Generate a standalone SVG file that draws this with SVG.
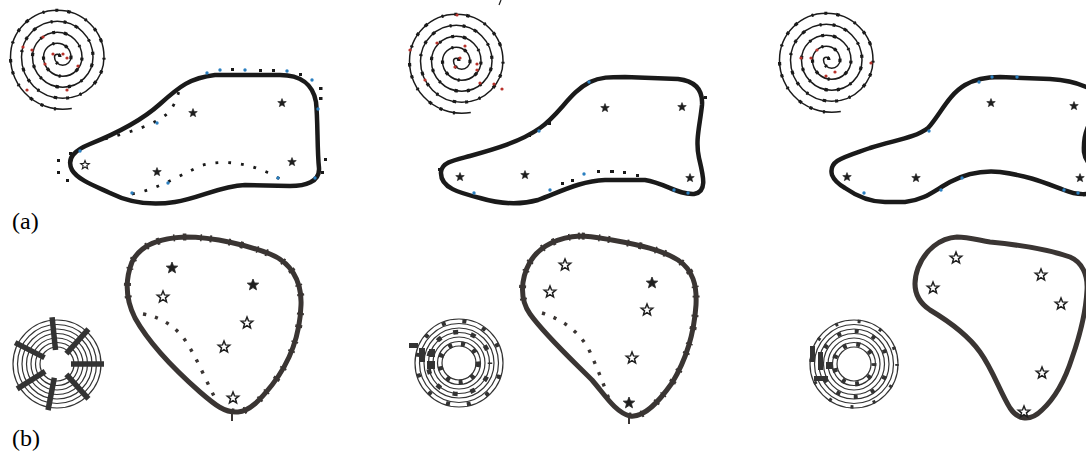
<svg xmlns="http://www.w3.org/2000/svg" xmlns:xlink="http://www.w3.org/1999/xlink" width="1086" height="452" viewBox="0 0 1086 452">
<style>
.bg{fill:#fff}
.sp{fill:none;stroke:#1a1a1a;stroke-width:1.5}
.spt{fill:none;stroke:#1a1a1a;stroke-width:3.2;stroke-dasharray:3 11 2 16 3.5 9}
.oa{fill:none;stroke:#1a1a1a;stroke-width:4.5;stroke-linejoin:round}
.ob{fill:none;stroke:#3a3533;stroke-width:5;stroke-linejoin:round}
.tk{fill:none;stroke:#3a3533;stroke-width:7;stroke-dasharray:2 8 1.5 14 3 10 2 17}
.dl{fill:none;stroke:#1a1a1a;stroke-width:2.8;stroke-dasharray:2.8 10}
.dlb{fill:none;stroke:#3a3533;stroke-width:3.4;stroke-dasharray:3.2 9}
.bd{fill:#2a7fc0}
.rd{fill:#b8312a}
.kd{fill:#1a1a1a}
.sf{fill:#1f1f1f;stroke:#1f1f1f;stroke-width:0.8}
.sh{fill:#fff;stroke:#1f1f1f;stroke-width:1.5}
.rg{fill:none;stroke:#333;stroke-width:1.2}
.spk{stroke:#333;stroke-width:5.5;stroke-linecap:butt}
.bl{fill:none;stroke:#333}
.lbl{font-family:"Liberation Serif","Times New Roman",serif;font-size:24px;fill:#000}
</style>
<defs>
<path id="st" d="M0,-6 L1.53,-2.1 L5.71,-1.85 L2.47,0.8 L3.53,4.85 L0,2.6 L-3.53,4.85 L-2.47,0.8 L-5.71,-1.85 L-1.53,-2.1 Z"/>
<path id="spiral" d="M0,0 A2.75,2.75 0 0 0 -5.5,0 A8.25,8.25 0 0 0 11,0 A13.75,13.75 0 0 0 -16.5,0 A19.25,19.25 0 0 0 22,0 A24.75,24.75 0 0 0 -27.5,0 A30.25,30.25 0 0 0 33,0 A35.75,35.75 0 0 0 -38.5,0 A41.25,41.25 0 0 0 44,0 A46.75,46.75 0 0 0 -49.5,0 A52.25,52.25 0 0 0 11.8,51.5"/>
<g id="rings">
<circle class="rg" r="17"/><circle class="rg" r="21.5"/><circle class="rg" r="26"/><circle class="rg" r="30.5"/><circle class="rg" r="35"/><circle class="rg" r="39.5"/><circle class="rg" r="44"/>
</g>
<clipPath id="cb1"><polygon points="105,220 330,220 330,430 245,430 225,400 140,305 105,305"/></clipPath>
<clipPath id="cb2"><polygon points="500,220 720,220 720,430 640,430 620,400 535,305 500,305"/></clipPath>
</defs>
<rect class="bg" x="0" y="0" width="1086" height="452"/>

<!-- Row (a), left -->
<g id="a1-spiral" transform="translate(60,57)">
<use xlink:href="#spiral" class="sp"/>
<use xlink:href="#spiral" class="spt"/>
</g>
<g id="a1-spiral-marks">
<circle class="rd" cx="43" cy="37" r="1.6"/><circle class="rd" cx="23" cy="47" r="1.6"/><circle class="rd" cx="32" cy="50" r="1.6"/><circle class="rd" cx="53" cy="54" r="1.6"/><circle class="rd" cx="63" cy="54" r="1.6"/><circle class="rd" cx="67" cy="58" r="1.6"/><circle class="rd" cx="78" cy="66" r="1.6"/><circle class="rd" cx="45" cy="64" r="1.6"/><circle class="rd" cx="27" cy="90" r="1.6"/><circle class="rd" cx="67" cy="90" r="1.6"/>
</g>
<g id="a1-shape">
<path class="oa" d="M72,170 C66,158 75,150 90,144 C115,134 140,122 160,104 C180,86 190,78 215,75 L280,75 C300,75 313,84 316,102 C318,120 317,150 319,168 C320,182 305,186 290,186 L245,185 C220,186 200,198 175,202 C150,206 130,203 110,193 C95,186 78,180 72,170 Z"/>
<path class="dl" d="M105,139 C130,132 155,125 168,113 C175,105 177,98 180,88"/>
<path class="dl" d="M132,194 C155,190 175,178 200,166 C225,158 255,164 280,179"/>
<circle class="bd" cx="157" cy="123" r="1.7"/><circle class="bd" cx="168" cy="183" r="1.7"/><circle class="bd" cx="278" cy="178" r="1.7"/><circle class="bd" cx="80" cy="151" r="1.7"/><circle class="bd" cx="132" cy="193" r="1.7"/>
<g class="kd">
<rect x="231" y="68" width="3" height="3"/><rect x="259" y="69" width="3" height="3"/><rect x="272" y="69" width="3" height="3"/><rect x="299" y="73" width="3" height="3"/><rect x="319" y="87" width="3.5" height="3"/><rect x="319" y="97" width="3.5" height="3"/><rect x="324" y="158" width="3" height="3"/><rect x="321" y="171" width="3" height="3"/><rect x="57" y="159" width="3" height="3"/><rect x="57" y="171" width="3" height="3"/><rect x="66" y="179" width="3" height="3"/><rect x="69" y="152" width="3" height="3"/>
</g>
<circle class="bd" cx="207" cy="73" r="1.7"/><circle class="bd" cx="220" cy="70" r="1.7"/><circle class="bd" cx="245" cy="70" r="1.7"/><circle class="bd" cx="287" cy="71" r="1.7"/><circle class="bd" cx="312" cy="80" r="1.7"/><circle class="bd" cx="318" cy="109" r="1.7"/><circle class="bd" cx="315" cy="178" r="1.7"/>
<use xlink:href="#st" class="sh" transform="translate(85,165) scale(0.75)"/>
<use xlink:href="#st" class="sf" transform="translate(157,172) scale(0.75)"/>
<use xlink:href="#st" class="sf" transform="translate(193,113) scale(0.75)"/>
<use xlink:href="#st" class="sf" transform="translate(282,103) scale(0.75)"/>
<use xlink:href="#st" class="sf" transform="translate(292,162) scale(0.75)"/>
</g>

<!-- Row (a), middle -->
<line x1="501" y1="0" x2="499" y2="5" stroke="#1a1a1a" stroke-width="1.2"/>
<g id="a2-spiral" transform="translate(459,61)">
<use xlink:href="#spiral" class="sp"/>
<use xlink:href="#spiral" class="spt"/>
</g>
<g id="a2-spiral-marks">
<circle class="rd" cx="457" cy="15" r="1.6"/><circle class="rd" cx="410" cy="50" r="1.6"/><circle class="rd" cx="437" cy="43" r="1.6"/><circle class="rd" cx="465" cy="46" r="1.6"/><circle class="rd" cx="460" cy="58" r="1.6"/><circle class="rd" cx="477" cy="64" r="1.6"/><circle class="rd" cx="477" cy="70" r="1.6"/><circle class="rd" cx="455" cy="67" r="1.6"/><circle class="rd" cx="425" cy="80" r="1.6"/><circle class="rd" cx="480" cy="83" r="1.6"/><circle class="rd" cx="494" cy="84" r="1.6"/><circle class="rd" cx="502" cy="89" r="1.6"/>
</g>
<g id="a2-shape">
<path class="oa" d="M441,172 C442,162 455,160 470,156 C495,149 520,142 540,128 C560,114 570,92 590,82 C600,77 610,77 625,77 L678,79 C695,81 703,90 702,105 C700,125 695,140 699,158 C703,175 708,192 694,194 C678,195 665,183 645,180 L605,180 C580,181 560,192 538,200 C520,205 500,204 480,198 C460,193 440,188 441,172 Z"/>
<g class="kd"><rect x="528" y="134" width="3" height="3"/><rect x="548" y="122" width="3" height="3"/><rect x="561" y="182" width="3" height="3"/><rect x="571" y="179" width="3" height="3"/><rect x="597" y="170" width="3" height="3"/><rect x="610" y="170" width="4" height="3"/><rect x="623" y="171" width="3" height="3"/><rect x="636" y="174" width="3" height="3"/><rect x="438" y="168" width="3" height="3"/><rect x="704" y="96" width="3" height="3"/></g>
<circle class="bd" cx="539" cy="131" r="1.7"/><circle class="bd" cx="584" cy="174" r="1.7"/><circle class="bd" cx="589" cy="82" r="1.7"/><circle class="bd" cx="474" cy="193" r="1.7"/><circle class="bd" cx="550" cy="190" r="1.7"/><circle class="bd" cx="674" cy="190" r="1.7"/><circle class="bd" cx="688" cy="193" r="1.7"/>
<use xlink:href="#st" class="sf" transform="translate(460,177) scale(0.75)"/>
<use xlink:href="#st" class="sf" transform="translate(525,175) scale(0.75)"/>
<use xlink:href="#st" class="sf" transform="translate(605,108) scale(0.75)"/>
<use xlink:href="#st" class="sf" transform="translate(682,107) scale(0.75)"/>
<use xlink:href="#st" class="sf" transform="translate(690,178) scale(0.75)"/>
</g>

<!-- Row (a), right -->
<g id="a3-spiral" transform="translate(829,60)">
<use xlink:href="#spiral" class="sp"/>
<use xlink:href="#spiral" class="spt"/>
</g>
<g id="a3-spiral-marks">
<circle class="rd" cx="801" cy="58" r="1.6"/><circle class="rd" cx="811" cy="58" r="1.6"/><circle class="rd" cx="817" cy="50" r="1.6"/><circle class="rd" cx="871" cy="63" r="1.6"/><circle class="rd" cx="826" cy="76" r="1.6"/><circle class="rd" cx="835" cy="72" r="1.6"/>
</g>
<g id="a3-shape">
<path class="oa" d="M832,175 C828,160 845,157 870,148 C895,140 915,138 928,128 C940,115 948,95 965,85 C975,79 985,77 1000,77 L1050,79 C1068,80 1085,85 1095,92 L1100,115 C1089,117 1083,135 1084,152 C1085,162 1095,170 1100,175 L1100,190 C1090,196 1076,195 1064,190 C1045,183 1030,176 1000,172 C980,170 965,174 950,182 C935,190 925,200 905,202 L885,202 C870,202 855,195 845,188 C838,184 834,180 832,175 Z"/>
<circle class="bd" cx="979" cy="82" r="1.7"/><circle class="bd" cx="992" cy="77" r="1.7"/><circle class="bd" cx="1017" cy="77" r="1.7"/><circle class="bd" cx="929" cy="131" r="1.7"/><circle class="bd" cx="962" cy="178" r="1.7"/><circle class="bd" cx="941" cy="190" r="1.7"/><circle class="bd" cx="864" cy="193" r="1.7"/><circle class="bd" cx="1064" cy="190" r="1.7"/><circle class="bd" cx="1078" cy="193" r="1.7"/>
<use xlink:href="#st" class="sf" transform="translate(847,177) scale(0.75)"/>
<use xlink:href="#st" class="sf" transform="translate(916,178) scale(0.75)"/>
<use xlink:href="#st" class="sf" transform="translate(991,103) scale(0.75)"/>
<use xlink:href="#st" class="sf" transform="translate(1074,106) scale(0.75)"/>
<use xlink:href="#st" class="sf" transform="translate(1080,178) scale(0.75)"/>
</g>

<text class="lbl" x="12" y="229">(a)</text>

<!-- Row (b), left -->
<g id="b1-target" transform="translate(57,364)">
<use xlink:href="#rings"/>
<g class="spk">
<line x1="14" y1="0" x2="47" y2="0" transform="rotate(-96)"/>
<line x1="14" y1="0" x2="47" y2="0" transform="rotate(-48)"/>
<line x1="14" y1="0" x2="47" y2="0" transform="rotate(0)"/>
<line x1="14" y1="0" x2="47" y2="0" transform="rotate(48)"/>
<line x1="14" y1="0" x2="47" y2="0" transform="rotate(101)"/>
<line x1="14" y1="0" x2="47" y2="0" transform="rotate(148)"/>
<line x1="14" y1="0" x2="47" y2="0" transform="rotate(207)"/>
</g>
</g>
<g id="b1-shape">
<path class="ob" d="M185,237 C160,238 140,245 132,262 C125,280 126,300 135,318 C150,345 175,370 200,392 C215,405 225,413 238,412 C250,411 260,400 272,385 C290,362 300,335 301,305 C302,280 290,262 270,254 C250,246 215,237 185,237 Z"/>
<path class="tk" clip-path="url(#cb1)" d="M185,237 C160,238 140,245 132,262 C125,280 126,300 135,318 C150,345 175,370 200,392 C215,405 225,413 238,412 C250,411 260,400 272,385 C290,362 300,335 301,305 C302,280 290,262 270,254 C250,246 215,237 185,237 Z"/>
<path class="dlb" d="M143,314 C165,318 180,330 190,348 C200,365 208,385 217,402"/>
<line x1="232" y1="414" x2="232" y2="421" stroke="#3a3533" stroke-width="2"/>
<use xlink:href="#st" class="sf" transform="translate(172,268)"/>
<use xlink:href="#st" class="sh" transform="translate(163,297)"/>
<use xlink:href="#st" class="sf" transform="translate(253,285)"/>
<use xlink:href="#st" class="sh" transform="translate(247,323)"/>
<use xlink:href="#st" class="sh" transform="translate(224,347)"/>
<use xlink:href="#st" class="sh" transform="translate(233,398)"/>
</g>

<!-- Row (b), middle -->
<g id="b2-target" transform="translate(459,363)">
<use xlink:href="#rings"/>
<circle class="bl" r="19" stroke-width="5" stroke-dasharray="4 9"/>
<circle class="bl" r="31" stroke-width="4.5" stroke-dasharray="5 13" stroke-dashoffset="4"/>
<circle class="bl" r="42" stroke-width="4" stroke-dasharray="4 17" stroke-dashoffset="9"/>
<g fill="#333"><rect x="-50" y="-20" width="9" height="5"/><rect x="-40" y="-15" width="6" height="14"/><rect x="-32" y="-2" width="8" height="8"/><rect x="-30" y="-14" width="6" height="8"/></g>
</g>
<g id="b2-shape">
<path class="ob" d="M580,236 C560,237 540,245 530,262 C520,280 520,300 530,314 C545,335 570,358 592,380 C605,395 615,412 630,416 C645,418 660,400 672,383 C686,360 694,335 696,305 C697,285 693,270 678,260 C662,250 640,245 612,240 C600,238 590,236 580,236 Z"/>
<path class="tk" clip-path="url(#cb2)" d="M580,236 C560,237 540,245 530,262 C520,280 520,300 530,314 C545,335 570,358 592,380 C605,395 615,412 630,416 C645,418 660,400 672,383 C686,360 694,335 696,305 C697,285 693,270 678,260 C662,250 640,245 612,240 C600,238 590,236 580,236 Z"/>
<path class="dlb" d="M542,313 C565,320 582,335 590,352 C598,370 604,385 610,402"/>
<line x1="629" y1="417" x2="629" y2="424" stroke="#3a3533" stroke-width="2"/>
<use xlink:href="#st" class="sh" transform="translate(565,265)"/>
<use xlink:href="#st" class="sh" transform="translate(550,292)"/>
<use xlink:href="#st" class="sf" transform="translate(652,283)"/>
<use xlink:href="#st" class="sh" transform="translate(647,310)"/>
<use xlink:href="#st" class="sh" transform="translate(632,358)"/>
<use xlink:href="#st" class="sf" transform="translate(629,403)"/>
</g>

<!-- Row (b), right -->
<g id="b3-target" transform="translate(854,364)">
<use xlink:href="#rings"/>
<circle class="bl" r="20" stroke-width="5" stroke-dasharray="4 10" stroke-dashoffset="2"/>
<circle class="bl" r="33" stroke-width="4" stroke-dasharray="4 14" stroke-dashoffset="6"/>
<circle class="bl" r="43" stroke-width="3.5" stroke-dasharray="3 20" stroke-dashoffset="1"/>
<g fill="#333"><rect x="-44" y="-18" width="5" height="16"/><rect x="-36" y="-12" width="5" height="18"/><rect x="-40" y="12" width="14" height="5"/><rect x="-28" y="-2" width="7" height="7"/></g>
</g>
<g id="b3-shape">
<path class="ob" d="M957,237 C940,238 925,250 918,268 C912,285 915,300 930,310 C950,322 968,335 980,352 C993,370 1000,392 1010,408 C1018,420 1030,422 1042,410 C1055,398 1065,380 1072,358 C1080,335 1086,310 1087,290 C1088,275 1082,262 1070,257 C1050,250 1020,245 990,242 C978,240 968,237 957,237 Z"/>
<use xlink:href="#st" class="sh" transform="translate(956,258)"/>
<use xlink:href="#st" class="sh" transform="translate(933,288)"/>
<use xlink:href="#st" class="sh" transform="translate(1041,275)"/>
<use xlink:href="#st" class="sh" transform="translate(1061,304)"/>
<use xlink:href="#st" class="sh" transform="translate(1042,373)"/>
<use xlink:href="#st" class="sh" transform="translate(1024,412)"/>
</g>

<text class="lbl" x="12" y="446">(b)</text>
</svg>
